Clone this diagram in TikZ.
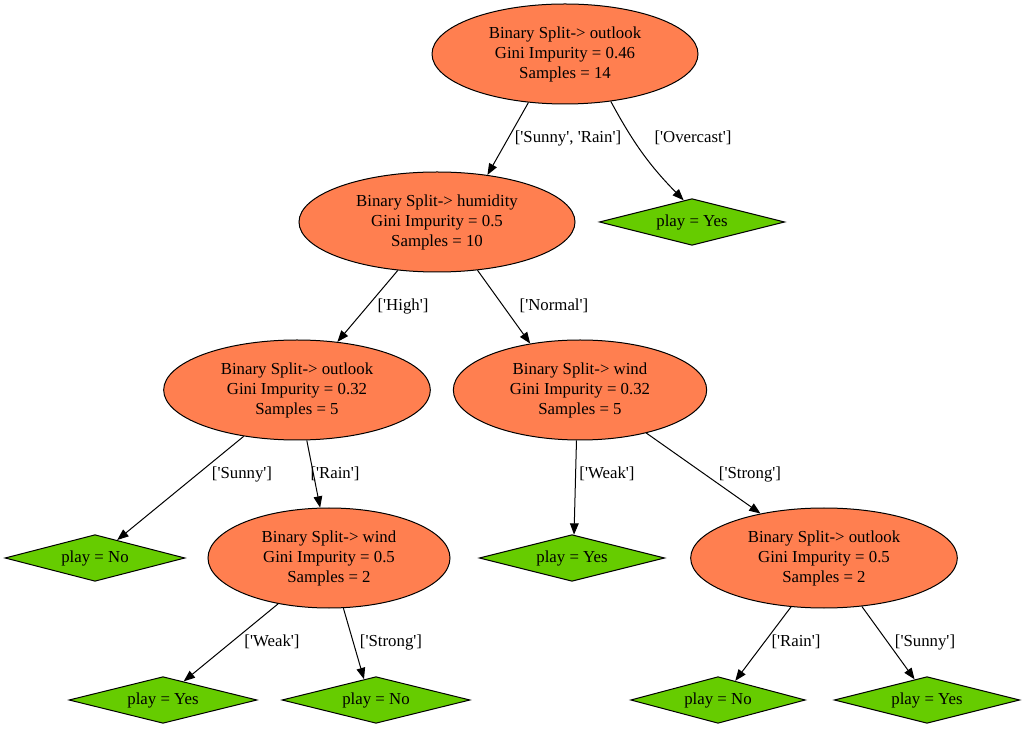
\documentclass[tikz,border=0pt]{standalone}
\usepackage{fontspec}
\setmainfont{Liberation Serif}[Ligatures=TeXOff]
\usetikzlibrary{shapes.geometric,arrows.meta}
\definecolor{splitfill}{HTML}{FF7F50}
\definecolor{leaffill}{HTML}{66CC00}

\begin{document}
\begin{tikzpicture}[x=0.75pt,y=-0.75pt,font=\fontsize{12.6}{15}\selectfont,
    split/.style={ellipse,draw,line width=0.75pt,fill=splitfill,align=center,inner sep=0pt,minimum width=#1,minimum height=75pt},
    leaf/.style={diamond,shape aspect=4,draw,line width=0.75pt,fill=leaffill,inner sep=0pt,minimum width=#1,minimum height=35pt},
    leaf/.default=139pt,
    arr/.style={-{Triangle[length=8.5pt,width=6.5pt]},line width=0.75pt}]
    \useasboundingbox (0,0) rectangle (1028,730);
    \node[split=199.5pt] (root) at (565,54) {Binary Split-> outlook\\Gini Impurity = 0.46\\Samples = 14};
    \node[split=207pt] (hum) at (437,222) {Binary Split-> humidity\\Gini Impurity = 0.5\\Samples = 10};
    \node[leaf] (yesA) at (692,222) {play = Yes};
    \node[split=200pt] (outA) at (297,390) {Binary Split-> outlook\\Gini Impurity = 0.32\\Samples = 5};
    \node[split=190pt] (windA) at (580,390) {Binary Split-> wind\\Gini Impurity = 0.32\\Samples = 5};
    \node[leaf=135pt] (noA) at (95,558) {play = No};
    \node[split=181.5pt] (windB) at (329,558) {Binary Split-> wind\\Gini Impurity = 0.5\\Samples = 2};
    \node[leaf] (yesB) at (572,558) {play = Yes};
    \node[split=200pt] (outB) at (824,558) {Binary Split-> outlook\\Gini Impurity = 0.5\\Samples = 2};
    \node[leaf=141pt] (yesC) at (163,700) {play = Yes};
    \node[leaf=141pt] (noB) at (376,700) {play = No};
    \node[leaf=131pt] (noC) at (718,700) {play = No};
    \node[leaf] (yesD) at (927,700) {play = Yes};
    \foreach \from/\to/\a/\b in {root/hum/233/43, hum/outA/231/50, hum/windA/310/137,
        outA/noA/221/39, outA/windB/281/100, windA/yesB/266/85, windA/outB/327/145,
        windB/yesC/222/42, windB/noB/286/120, outB/noC/236/48, outB/yesD/308/121}
        \draw[arr] (\from.\a) -- (\to.\b);
    \draw[arr] (root.314) to[bend right=8] (yesA.111);
    \node (lSR) at (568,138) {['Sunny', 'Rain']};
    \node (lOv) at (693,138) {['Overcast']};
    \node (lHi) at (403,306) {['High']};
    \node (lNo) at (554,306) {['Normal']};
    \node (lSuA) at (242,474) {['Sunny']};
    \node (lRaA) at (335,474) {['Rain']};
    \node (lWeA) at (607,474) {['Weak']};
    \node (lStA) at (750,474) {['Strong']};
    \node (lWeB) at (272,642) {['Weak']};
    \node (lStB) at (391,642) {['Strong']};
    \node (lRaB) at (796,642) {['Rain']};
    \node (lSuB) at (925,642) {['Sunny']};
\end{tikzpicture}
\end{document}
